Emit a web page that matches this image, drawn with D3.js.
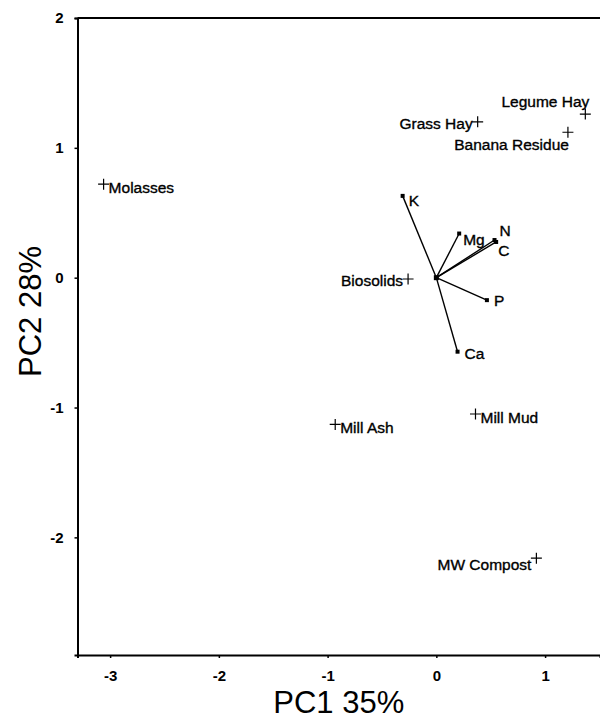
<!DOCTYPE html>
<html><head><meta charset="utf-8">
<script src="https://cdn.jsdelivr.net/npm/d3@7"></script>
<style>body{margin:0;background:#fff}svg{display:block}</style>
</head><body>
<svg id="c" width="600" height="720"></svg>
<script>
const sampleNames = ["Molasses","Grass Hay","Legume Hay","Banana Residue","Biosolids","Mill Ash","Mill Mud","MW Compost"];
const samplePC1 = [-3.06, 0.38, 1.37, 1.21, -0.26, -0.93, 0.36, 0.92];
const samplePC2 = [0.72, 1.20, 1.26, 1.12, -0.01, -1.13, -1.05, -2.16];
const sampleLabelPos = ["right","left","aboveleft","belowleft","left","right","right","left"];

const varNames = ["K","Mg","N","C","P","Ca"];
const varPC1 = [-0.31, 0.21, 0.535, 0.55, 0.465, 0.195];
const varPC2 = [0.63, 0.34, 0.29, 0.275, -0.173, -0.57];

const xTicks = [-3,-2,-1,0,1];
const yTicks = [-2,-1,0,1,2];
const xTitle = "PC1 35%";
const yTitle = "PC2 28%";

const svg = d3.select("#c");
const L = 77.5, R = 600, T = 18, B = 655;
const x = d3.scaleLinear().domain([-3.3, 1.505]).range([L, R]);
const y = d3.scaleLinear().domain([-2.906, 2]).range([B, T]);

const font = "'Liberation Sans', Arial, sans-serif";
const lblSize = 15.5;

svg.append("line").attr("x1",L).attr("x2",R).attr("y1",T).attr("y2",T).attr("stroke","#000").attr("stroke-width",2);

const xa = svg.append("g").attr("transform",`translate(0,${B})`)
  .call(d3.axisBottom(x).tickValues(xTicks).tickSize(3).tickPadding(12).tickFormat(d3.format("d")));
const ya = svg.append("g").attr("transform",`translate(${L},0)`)
  .call(d3.axisLeft(y).tickValues(yTicks).tickSize(3).tickPadding(11).tickFormat(d3.format("d")));
[xa,ya].forEach(a=>{
  a.attr("font-size",null).attr("font-family",null);
  a.select(".domain").attr("stroke","#000").attr("stroke-width",2);
  a.selectAll(".tick line").attr("stroke","#000").attr("stroke-width",1.5);
  a.selectAll(".tick text")
    .style("font-family",font).style("font-weight","bold").style("font-size","15px").attr("fill","#000")
    .text(d=>d<0? "-"+Math.abs(d) : d);
});

svg.append("text").attr("x",(L+R)/2).attr("y",713).attr("text-anchor","middle")
  .style("font-family",font).style("font-size","31px").text(xTitle);
svg.append("text").attr("transform",`translate(41,311.5) rotate(-90)`).attr("text-anchor","middle")
  .style("font-family",font).style("font-size","31px").text(yTitle);

// loading vectors
const vars = varNames.map((n,i)=>({n, px:varPC1[i], py:varPC2[i]}));
const vg = svg.append("g");
vars.forEach(v=>{
  vg.append("line").attr("x1",x(0)).attr("y1",y(0)).attr("x2",x(v.px)).attr("y2",y(v.py))
    .attr("stroke","#000").attr("stroke-width",1.4);
  vg.append("rect").attr("x",x(v.px)-2).attr("y",y(v.py)-2).attr("width",4).attr("height",4).attr("fill","#000");
});
vg.append("rect").attr("x",x(0)-2.5).attr("y",y(0)-2.5).attr("width",5).attr("height",5).attr("fill","#000");
const varOff = {K:[6,10], Mg:[4,11], N:[5,-4], C:[2,14], P:[7,6], Ca:[7,7]};
vars.forEach(v=>{
  const o = varOff[v.n];
  vg.append("text").attr("x",x(v.px)+o[0]).attr("y",y(v.py)+o[1])
    .style("font-family",font).style("font-size",lblSize+"px").attr("fill","#000")
    .attr("stroke","#000").attr("stroke-width",0.35).text(v.n);
});

// sample scores
const pts = sampleNames.map((n,i)=>({n, px:samplePC1[i], py:samplePC2[i], pos:sampleLabelPos[i]}));
const lblOff = {"Molasses":8.5,"Grass Hay":7.5,"Legume Hay":-7,"Banana Residue":17.5,"Biosolids":7,"Mill Ash":9,"Mill Mud":9,"MW Compost":11.5};
const sg = svg.append("g");
pts.forEach(p=>{
  const cx = x(p.px), cy = y(p.py);
  sg.append("path").attr("d",`M${cx-5.5},${cy}H${cx+5.5}M${cx},${cy-5.5}V${cy+5.5}`)
    .attr("stroke","#000").attr("stroke-width",1.2).attr("fill","none");
  let tx=cx, anchor="start";
  const ty = cy + lblOff[p.n];
  if(p.pos==="right"){tx=cx+5;}
  else if(p.pos==="left"){tx=cx-5; anchor="end";}
  else if(p.pos==="aboveleft"){tx=cx+4; anchor="end";}
  else if(p.pos==="belowleft"){tx=cx+1; anchor="end";}
  sg.append("text").attr("x",tx).attr("y",ty).attr("text-anchor",anchor)
    .style("font-family",font).style("font-size",lblSize+"px").attr("fill","#000")
    .attr("stroke","#000").attr("stroke-width",0.35).text(p.n);
});
</script>
</body></html>
